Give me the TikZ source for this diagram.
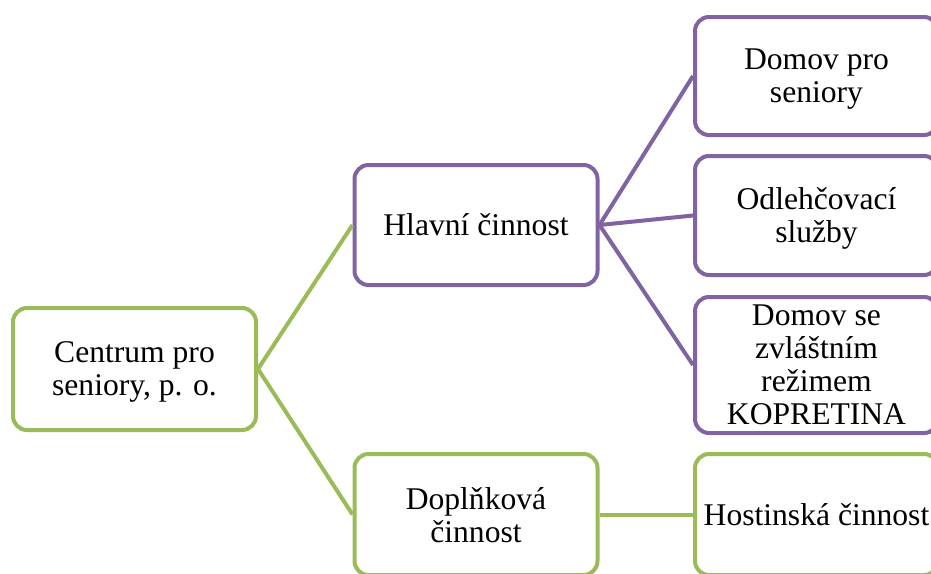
\documentclass[tikz,border=0pt]{standalone}
\usepackage{fontspec}
\setmainfont{Liberation Serif}
\definecolor{ogreen}{HTML}{9BBB59}
\definecolor{opurple}{HTML}{8064A2}
\begin{document}
\begin{tikzpicture}[x=1pt,y=-1pt,
  box/.style={draw, line width=4pt, rounded corners=14pt, fill=white,
    minimum width=243pt, inner sep=0pt, align=center, text depth=0pt,
    font=\fontsize{31.6}{33}\selectfont},
  gbox/.style={box, draw=ogreen},
  pbox/.style={box, draw=opurple},
  glink/.style={draw=ogreen, line width=4pt},
  plink/.style={draw=opurple, line width=4pt}]
\useasboundingbox (0,0) rectangle (931,573);
\clip (0,0) rectangle (931,573);
\node[gbox, minimum height=122pt] (c) at (134.5,369) {Centrum pro\\seniory, p. o.};
\node[pbox, minimum height=120pt] (h) at (476,225) {Hlavní činnost};
\node[gbox, minimum height=121pt] (d) at (476,514.5) {Doplňková\\činnost};
\node[pbox, minimum height=118pt] (r1) at (816.5,76) {Domov pro\\seniory};
\node[pbox, minimum height=119pt] (r2) at (816.5,215.5) {Odlehčovací\\služby};
\node[pbox, minimum height=136pt] (r3) at (816.5,365) {Domov se\\zvláštním\\režimem\\KOPRETINA};
\node[gbox, minimum height=121pt] (r4) at (816.5,514.5) {Hostinská činnost};
\path[glink] (c.east) -- (h.west);
\path[glink] (c.east) -- (d.west);
\path[plink] (h.east) -- (r1.west);
\path[plink] (h.east) -- (r2.west);
\path[plink] (h.east) -- (r3.west);
\path[glink] (d.east) -- (r4.west);
\end{tikzpicture}
\end{document}
